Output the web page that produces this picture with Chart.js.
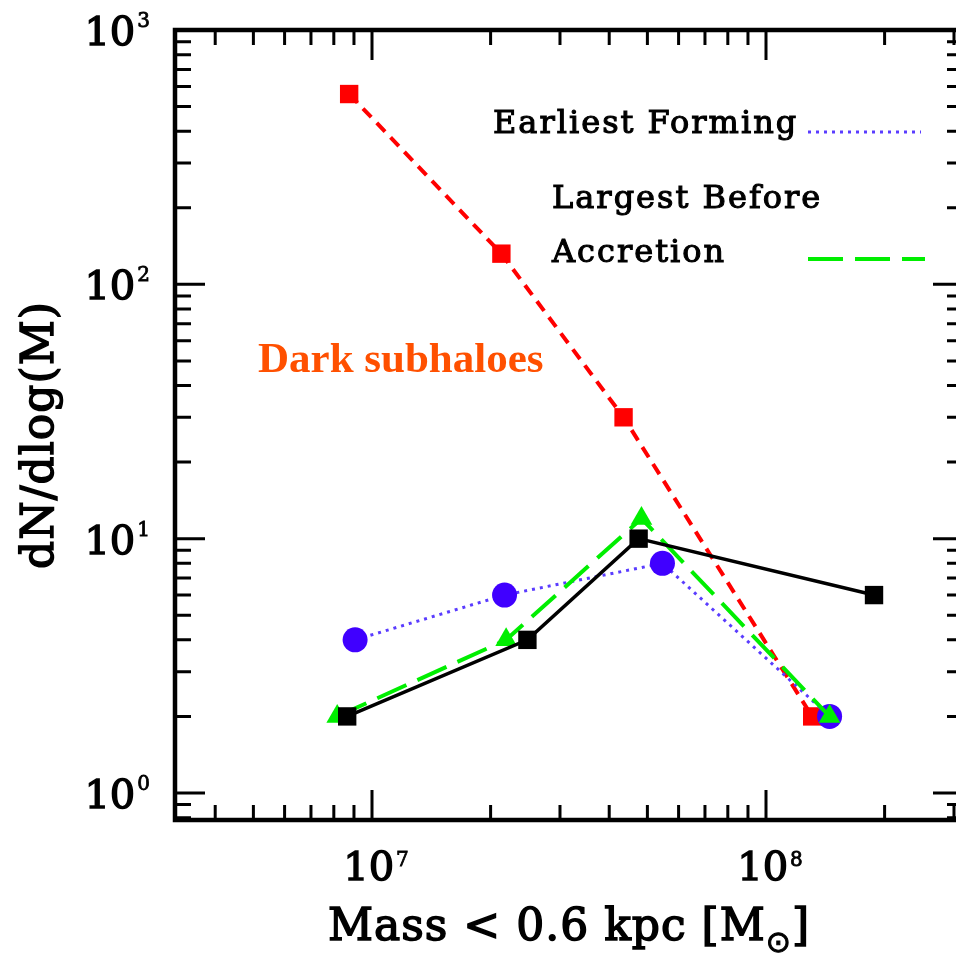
<!DOCTYPE html>
<html>
<head>
<meta charset="utf-8">
<script src="https://cdn.jsdelivr.net/npm/chart.js@4"></script>
<style>
  html, body { margin: 0; padding: 0; background: #fff; overflow: hidden; width: 956px; height: 955px; }
  #wrap { position: relative; width: 976px; height: 955px; }
</style>
</head>
<body>
<div id="wrap"><canvas id="chart" width="976" height="955"></canvas></div>
<script>
// values (mass in Msun, dN/dlog(M))
const darkMass = [8.75e6, 2.13e7, 4.35e7, 1.31e8];
const darkCount = [560, 132, 30, 2];
const totalMass = [8.65e6, 2.48e7, 4.75e7, 1.88e8];
const totalCount = [2, 4, 10, 6];
const earliestMass = [9.06e6, 2.17e7, 5.46e7, 1.45e8];
const earliestCount = [4, 6, 8, 2];
const largestMass = [8.16e6, 2.19e7, 4.83e7, 1.45e8];
const largestCount = [2, 4, 12, 2];

const xTickPowers = [7, 8];
const yTickPowers = [0, 1, 2, 3];
const xRange = [10 ** 6.5, 10 ** 8.5];
const yRange = [0.783, 1000];

const toPoints = (xs, ys) => xs.map((x, i) => ({ x, y: ys[i] }));

const SERIF = '"DejaVu Serif", serif';

// pgplot-style text is a bit heavier than DejaVu Serif regular, so outline it too
const heavyText = (ctx, text, x, y, weight = 1.1) => {
  ctx.fillText(text, x, y);
  ctx.lineWidth = weight;
  ctx.strokeText(text, x, y);
};

const drawPower = (ctx, exp, x, baseline, supBaseline, align) => {
  ctx.font = `40px ${SERIF}`;
  const w1 = ctx.measureText("10").width;
  ctx.font = `20px ${SERIF}`;
  const w2 = ctx.measureText(String(exp)).width;
  const total = w1 + 2 + w2;
  let start = x;
  if (align === "right") start = x - total;
  if (align === "center") start = x - total / 2;
  ctx.textAlign = "left";
  ctx.textBaseline = "alphabetic";
  ctx.font = `40px ${SERIF}`;
  heavyText(ctx, "10", start, baseline, 1.4);
  ctx.font = `20px ${SERIF}`;
  heavyText(ctx, String(exp), start + w1 + 2, supBaseline, 0.8);
};

const logTicks = (min, max) => {
  const out = [];
  for (let k = Math.floor(Math.log10(min)); k <= Math.ceil(Math.log10(max)); k++) {
    for (let m = 1; m <= 9; m++) {
      const v = m * 10 ** k;
      if (v >= min * 0.999 && v <= max * 1.001) out.push({ v, major: m === 1 });
    }
  }
  return out;
};

const framePlugin = {
  id: "frame",
  afterDraw(chart) {
    const { ctx, chartArea: a, scales } = chart;
    const xs = scales.x;
    const ys = scales.y;
    ctx.save();
    ctx.strokeStyle = "#000";
    ctx.fillStyle = "#000";

    // ticks
    ctx.lineWidth = 3;
    logTicks(xRange[0], xRange[1]).forEach(({ v, major }) => {
      const px = xs.getPixelForValue(v);
      const len = major ? 30 : 15;
      ctx.beginPath();
      ctx.moveTo(px, a.bottom); ctx.lineTo(px, a.bottom - len);
      ctx.moveTo(px, a.top); ctx.lineTo(px, a.top + len);
      ctx.stroke();
    });
    logTicks(yRange[0], yRange[1]).forEach(({ v, major }) => {
      const py = ys.getPixelForValue(v);
      const len = major ? 30 : 16;
      ctx.beginPath();
      ctx.moveTo(a.left, py); ctx.lineTo(a.left + len, py);
      ctx.moveTo(a.right, py); ctx.lineTo(a.right - len, py);
      ctx.stroke();
    });

    // frame
    ctx.lineWidth = 4.5;
    ctx.strokeRect(a.left, a.top, a.right - a.left, a.bottom - a.top);

    // tick labels
    yTickPowers.forEach((p) => {
      const py = ys.getPixelForValue(10 ** p);
      drawPower(ctx, p, 150, py + 15, py - 3, "right");
    });
    xTickPowers.forEach((p) => {
      const px = xs.getPixelForValue(10 ** p);
      drawPower(ctx, p, px + 4, 880, 866, "center");
    });

    // x title
    ctx.textBaseline = "alphabetic";
    ctx.textAlign = "left";
    ctx.font = `44px ${SERIF}`;
    ctx.letterSpacing = "1px";
    const t1 = "Mass < 0.6 kpc [M";
    const w1 = ctx.measureText(t1).width;
    ctx.font = `30px "DejaVu Sans", sans-serif`;
    const wSun = ctx.measureText("⊙").width;
    ctx.font = `44px ${SERIF}`;
    const wEnd = ctx.measureText("]").width;
    const sx = (a.left + a.right) / 2 - (w1 + wSun + wEnd) / 2;
    heavyText(ctx, t1, sx, 940, 1.5);
    ctx.font = `30px "DejaVu Sans", sans-serif`;
    heavyText(ctx, "⊙", sx + w1, 952, 1);
    ctx.font = `44px ${SERIF}`;
    heavyText(ctx, "]", sx + w1 + wSun, 940, 1.5);

    // y title
    ctx.save();
    ctx.translate(53, 435);
    ctx.rotate(-Math.PI / 2);
    ctx.textAlign = "center";
    ctx.font = `44px ${SERIF}`;
    ctx.letterSpacing = "1px";
    heavyText(ctx, "dN/dlog(M)", 0, 0, 1.5);
    ctx.restore();

    // legend
    ctx.font = `32px ${SERIF}`;
    ctx.letterSpacing = "2px";
    heavyText(ctx, "Earliest Forming", 493, 133, 1.1);
    heavyText(ctx, "Largest Before", 552, 208, 1.1);
    heavyText(ctx, "Accretion", 552, 262, 1.1);
    ctx.letterSpacing = "0px";

    ctx.lineCap = "butt";
    ctx.strokeStyle = "#5a3cff";
    ctx.lineWidth = 3;
    ctx.setLineDash([3, 5]);
    ctx.beginPath(); ctx.moveTo(808, 132); ctx.lineTo(921, 132); ctx.stroke();
    ctx.strokeStyle = "#00ee00";
    ctx.lineWidth = 4;
    ctx.setLineDash([35, 12]);
    ctx.beginPath(); ctx.moveTo(808, 259); ctx.lineTo(925, 259); ctx.stroke();
    ctx.setLineDash([]);

    // annotation
    ctx.fillStyle = "#ff5000";
    ctx.font = `bold 43px "Liberation Serif", serif`;
    ctx.fillText("Dark subhaloes", 258, 372);
    ctx.restore();
  },
};

new Chart(document.getElementById("chart").getContext("2d"), {
  type: "scatter",
  data: {
    datasets: [
      {
        label: "All",
        data: toPoints(totalMass, totalCount),
        showLine: true,
        borderColor: "#000",
        backgroundColor: "#000",
        borderWidth: 3.5,
        pointStyle: "rect",
        pointRadius: 13,
        pointBorderWidth: 0,
      },
      {
        label: "Largest Before Accretion",
        data: toPoints(largestMass, largestCount),
        showLine: true,
        borderColor: "#00ee00",
        backgroundColor: "#00ee00",
        borderWidth: 4,
        borderDash: [32, 12],
        pointStyle: "triangle",
        pointRadius: 12.5,
        pointBorderWidth: 0,
      },
      {
        label: "Earliest Forming",
        data: toPoints(earliestMass, earliestCount),
        showLine: true,
        borderColor: "#5a3cff",
        backgroundColor: "#4000ff",
        borderWidth: 3,
        borderDash: [3, 5],
        pointStyle: "circle",
        pointRadius: 12.5,
        pointBorderWidth: 0,
      },
      {
        label: "Dark subhaloes",
        data: toPoints(darkMass, darkCount),
        showLine: true,
        borderColor: "#ff0000",
        backgroundColor: "#ff0000",
        borderWidth: 4,
        borderDash: [12, 8],
        pointStyle: "rect",
        pointRadius: 13,
        pointBorderWidth: 0,
      },
    ],
  },
  options: {
    responsive: false,
    animation: false,
    layout: { padding: { left: 175, top: 30, right: 10, bottom: 135 } },
    scales: {
      x: { type: "logarithmic", min: xRange[0], max: xRange[1], display: false },
      y: { type: "logarithmic", min: yRange[0], max: yRange[1], display: false },
    },
    plugins: {
      legend: { display: false },
      tooltip: { enabled: false },
    },
  },
  plugins: [framePlugin],
});
</script>
</body>
</html>
